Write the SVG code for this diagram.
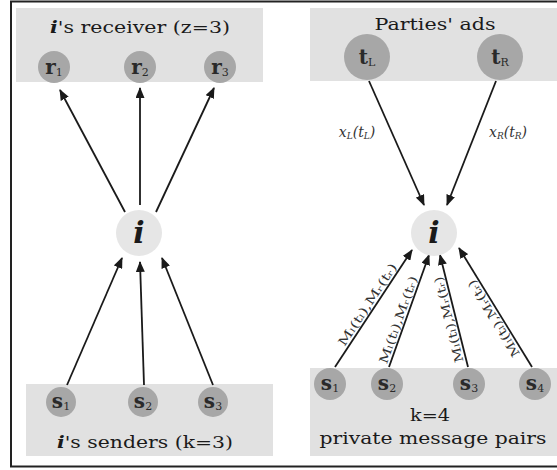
<svg xmlns="http://www.w3.org/2000/svg" width="557" height="470" viewBox="0 0 557 470">
<style>
  .band{fill:#e1e1e1}
  .dn{fill:#a7a7a7}
  .ln{fill:#e6e6e6}
  .t{font-family:"DejaVu Serif","Liberation Serif",serif;fill:#1a1a1a;text-anchor:middle}
  .title{font-size:17px}
  .nl{font-size:20px;font-weight:bold;fill:#2a2a2a}
  .sub{font-size:11px;font-weight:normal}
  .edge{stroke:#1a1a1a;stroke-width:1.8;fill:none;marker-end:url(#ah)}
  .el{font-family:"DejaVu Serif","Liberation Serif",serif;font-size:14px;fill:#333;font-style:italic}
  .ml{font-family:"DejaVu Serif","Liberation Serif",serif;font-size:12px;fill:#333}
</style>
<defs>
  <marker id="ah" markerWidth="11" markerHeight="9" refX="10" refY="4.5" orient="auto" markerUnits="userSpaceOnUse">
    <path d="M0,0 L11,4.5 L0,9 Z" fill="#1a1a1a"/>
  </marker>
  <path id="p1" d="M335,367 L412,250"/>
  <path id="p2" d="M389,367 L429,255"/>
  <path id="p3" d="M468,367 L440,255"/>
  <path id="p4" d="M532,367 L459,248"/>
</defs>
<rect x="0" y="0" width="557" height="470" fill="#fff"/>
<rect x="11" y="1.5" width="560" height="465" fill="none" stroke="#222" stroke-width="2"/>

<g id="bands">
  <rect class="band" x="16" y="8" width="247" height="74"/>
  <rect class="band" x="26" y="384" width="247" height="72"/>
  <rect class="band" x="310" y="8" width="247" height="73"/>
  <rect class="band" x="310" y="368" width="247" height="88"/>
</g>

<g id="connectors">
  <line class="edge" x1="125" y1="212" x2="60" y2="90"/>
  <line class="edge" x1="140" y1="205" x2="140" y2="88"/>
  <line class="edge" x1="156" y1="212" x2="214" y2="88"/>
  <line class="edge" x1="67" y1="385" x2="122" y2="258"/>
  <line class="edge" x1="144" y1="385" x2="140" y2="262"/>
  <line class="edge" x1="213" y1="385" x2="162" y2="258"/>
  <line class="edge" x1="369" y1="81" x2="424" y2="205"/>
  <line class="edge" x1="496" y1="81" x2="447" y2="205"/>
  <use href="#p1" class="edge"/>
  <use href="#p2" class="edge"/>
  <use href="#p3" class="edge"/>
  <use href="#p4" class="edge"/>
  <text class="el" x="357" y="137" text-anchor="middle">x<tspan font-size="9" dy="2">L</tspan><tspan dy="-2">(t</tspan><tspan font-size="9" dy="2">L</tspan><tspan dy="-2">)</tspan></text>
  <text class="el" x="508" y="137" text-anchor="middle">x<tspan font-size="9" dy="2">R</tspan><tspan dy="-2">(t</tspan><tspan font-size="9" dy="2">R</tspan><tspan dy="-2">)</tspan></text>
  <text class="ml" dy="-3"><textPath href="#p1" startOffset="50%" text-anchor="middle" textLength="96" lengthAdjust="spacingAndGlyphs">Mₗ(tₗ),Mᵣ(tᵣ)</textPath></text>
  <text class="ml" dy="-3"><textPath href="#p2" startOffset="40%" text-anchor="middle" textLength="92" lengthAdjust="spacingAndGlyphs">Mₗ(tₗ),Mᵣ(tᵣ)</textPath></text>
  <text class="ml" dy="-3"><textPath href="#p3" startOffset="44%" text-anchor="middle" textLength="88" lengthAdjust="spacingAndGlyphs">Mₗ(tₗ),Mᵣ(tᵣ)</textPath></text>
  <text class="ml" dy="-3"><textPath href="#p4" startOffset="44%" text-anchor="middle" textLength="88" lengthAdjust="spacingAndGlyphs">Mₗ(tₗ),Mᵣ(tᵣ)</textPath></text>
</g>

<g id="titles">
  <text class="t title" x="140" y="33" textLength="180" lengthAdjust="spacingAndGlyphs"><tspan font-style="italic" font-weight="bold">i</tspan>'s receiver (z=3)</text>
  <text class="t title" x="435" y="30" textLength="121" lengthAdjust="spacingAndGlyphs">Parties' ads</text>
  <text class="t title" x="145" y="448" textLength="176" lengthAdjust="spacingAndGlyphs"><tspan font-style="italic" font-weight="bold">i</tspan>'s senders (k=3)</text>
  <text class="t title" x="430" y="421" textLength="40" lengthAdjust="spacingAndGlyphs">k=4</text>
  <text class="t title" x="433" y="444" textLength="227" lengthAdjust="spacingAndGlyphs">private message pairs</text>
</g>

<g id="r1"><circle class="dn" cx="54" cy="67" r="16"/><text class="t nl" x="54" y="74">r<tspan class="sub" dy="2">1</tspan></text></g>
<g id="r2"><circle class="dn" cx="140" cy="67" r="16"/><text class="t nl" x="140" y="74">r<tspan class="sub" dy="2">2</tspan></text></g>
<g id="r3"><circle class="dn" cx="220" cy="67" r="16"/><text class="t nl" x="220" y="74">r<tspan class="sub" dy="2">3</tspan></text></g>

<g id="i-left"><circle class="ln" cx="139" cy="233" r="23"/><text class="t" x="139" y="243" font-size="30" font-style="italic" font-weight="bold">i</text></g>

<g id="s1-left"><circle class="dn" cx="61" cy="402" r="15"/><text class="t nl" x="61" y="408">s<tspan class="sub" dy="2">1</tspan></text></g>
<g id="s2-left"><circle class="dn" cx="143" cy="402" r="15"/><text class="t nl" x="143" y="408">s<tspan class="sub" dy="2">2</tspan></text></g>
<g id="s3-left"><circle class="dn" cx="213" cy="402" r="15"/><text class="t nl" x="213" y="408">s<tspan class="sub" dy="2">3</tspan></text></g>

<g id="tL"><circle class="dn" cx="367" cy="57" r="23"/><text class="t nl" x="367" y="64">t<tspan class="sub" dy="2">L</tspan></text></g>
<g id="tR"><circle class="dn" cx="500" cy="57" r="23"/><text class="t nl" x="500" y="64">t<tspan class="sub" dy="2">R</tspan></text></g>

<g id="i-right"><circle class="ln" cx="434" cy="233" r="23"/><text class="t" x="434" y="243" font-size="30" font-style="italic" font-weight="bold">i</text></g>

<g id="s1-right"><circle class="dn" cx="330" cy="384" r="16"/><text class="t nl" x="330" y="390">s<tspan class="sub" dy="2">1</tspan></text></g>
<g id="s2-right"><circle class="dn" cx="387" cy="384" r="16"/><text class="t nl" x="387" y="390">s<tspan class="sub" dy="2">2</tspan></text></g>
<g id="s3-right"><circle class="dn" cx="469" cy="384" r="16"/><text class="t nl" x="469" y="390">s<tspan class="sub" dy="2">3</tspan></text></g>
<g id="s4-right"><circle class="dn" cx="535" cy="384" r="16"/><text class="t nl" x="535" y="390">s<tspan class="sub" dy="2">4</tspan></text></g>
</svg>
